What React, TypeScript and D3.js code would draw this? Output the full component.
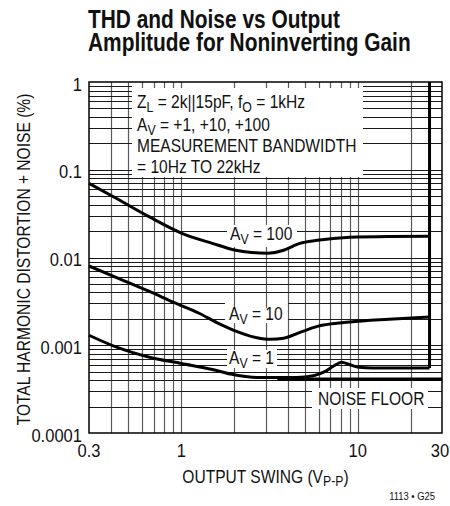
import React from "react";
import * as d3 from "d3";

// ---- data ----
const xTickValues = [0.3, 1, 10, 30];
const xTickLabels = ["0.3", "1", "10", "30"];
const yTickValues = [1, 0.1, 0.01, 0.001, 0.0001];
const yTickLabels = ["1", "0.1", "0.01", "0.001", "0.0001"];

const av100X = [0.3, 0.43, 0.66, 1.0, 1.5, 2.0, 2.5, 3.1, 3.8, 4.3, 4.7, 5.9, 9, 15, 25.5];
const av100Y = [0.07, 0.047, 0.029, 0.019, 0.0145, 0.0122, 0.0114, 0.0112, 0.0121, 0.0135, 0.0145, 0.0157, 0.017, 0.0174, 0.0175];

const av10X = [0.3, 0.43, 0.66, 0.9, 1.27, 1.6, 1.97, 2.68, 3.2, 3.8, 4.7, 5.9, 9, 15, 25.5];
const av10Y = [0.008, 0.0059, 0.0041, 0.0031, 0.0023, 0.0018, 0.00149, 0.00122, 0.00117, 0.0012, 0.0014, 0.00164, 0.00184, 0.00198, 0.0021];

const av1X = [0.3, 0.43, 0.66, 1.0, 1.5, 1.9, 2.7, 3.5, 4.5, 5.6, 6.5, 7.3, 8.1, 9, 10.2, 12, 25.5];
const av1Y = [0.0013, 0.00095, 0.00073, 0.00062, 0.00053, 0.00047, 0.00043, 0.00043, 0.00043, 0.00045, 0.0005, 0.00058, 0.00064, 0.0006, 0.00056, 0.00055, 0.00055];

const noiseX = [3.5, 30];
const noiseY = [0.00041, 0.00041];

const clipX = 25.5;

const title1 = "THD and Noise vs Output";
const title2 = "Amplitude for Noninverting Gain";

// ---- layout ----
const W = 450, H = 506;
const L = 89, R = 442, T = 82, B = 433;
const FONT = "'Liberation Sans', Arial, sans-serif";
const SX = 0.82;

type Gap = { x0: number; x1: number; y0: number; y1: number };

const hGaps: Gap[] = [
  { x0: 132, x1: 363, y0: 84, y1: 177 },
  { x0: 227, x1: 297, y0: 224, y1: 247 },
  { x0: 225, x1: 288, y0: 300, y1: 323 },
  { x0: 227, x1: 277, y0: 348, y1: 368 },
  { x0: 312, x1: 428, y0: 385, y1: 408 },
];
const vGaps: Gap[] = [
  { x0: 132, x1: 363, y0: 88, y1: 177 },
  { x0: 227, x1: 297, y0: 225, y1: 247 },
  { x0: 225, x1: 288, y0: 308, y1: 323 },
  { x0: 227, x1: 277, y0: 350, y1: 368 },
  { x0: 312, x1: 428, y0: 388, y1: 409 },
];

function split(a: number, b: number, cuts: [number, number][]): [number, number][] {
  let segs: [number, number][] = [[a, b]];
  for (const [c0, c1] of cuts) {
    const next: [number, number][] = [];
    for (const [s0, s1] of segs) {
      if (c1 <= s0 || c0 >= s1) { next.push([s0, s1]); continue; }
      if (c0 > s0) next.push([s0, c0]);
      if (c1 < s1) next.push([c1, s1]);
    }
    segs = next;
  }
  return segs;
}

function CT(props: { x: number; y: number; sx?: number; rot?: number; children?: React.ReactNode; [k: string]: any }) {
  const { x, y, sx = SX, rot = 0, children, ...rest } = props;
  return (
    <g transform={`translate(${x},${y}) rotate(${rot}) scale(${sx},1)`}>
      <text x={0} y={0} {...rest}>{children}</text>
    </g>
  );
}

export default function App() {
  const x = d3.scaleLog().domain([0.3, 30]).range([L, R]);
  const y = d3.scaleLog().domain([0.0001, 1]).range([B, T]);

  const line = d3
    .line<[number, number]>()
    .x((d) => x(d[0]))
    .y((d) => y(d[1]))
    .curve(d3.curveMonotoneX);

  const zip = (xs: number[], ys: number[]) => xs.map((v, i) => [v, ys[i]] as [number, number]);

  const vGrid: number[] = [];
  [0.1, 1, 10].forEach((dec) => {
    for (let k = 1; k <= 9; k++) {
      const v = dec * k;
      if (v > 0.3 + 1e-9 && v < 30 - 1e-9) vGrid.push(v);
    }
  });
  const hGrid: number[] = [];
  [0.0001, 0.001, 0.01, 0.1].forEach((dec) => {
    for (let k = 1; k <= 9; k++) {
      const v = dec * k;
      if (v > 0.0001 + 1e-12) hGrid.push(v);
    }
  });

  const hLines: React.ReactElement[] = [];
  hGrid.forEach((v, i) => {
    const yy = Math.round(y(v)) + 0.5;
    const cuts = hGaps.filter((g) => yy >= g.y0 && yy <= g.y1).map((g) => [g.x0, g.x1] as [number, number]);
    split(L, R, cuts).forEach(([a, b], j) => {
      hLines.push(<line key={`h${i}-${j}`} x1={a} x2={b} y1={yy} y2={yy} stroke="#1a1a1a" strokeWidth={1} />);
    });
  });
  const vLines: React.ReactElement[] = [];
  vGrid.forEach((v, i) => {
    const xx = Math.round(x(v)) + 0.5;
    const cuts = vGaps.filter((g) => xx >= g.x0 && xx <= g.x1).map((g) => [g.y0, g.y1] as [number, number]);
    split(T, B, cuts).forEach(([a, b], j) => {
      vLines.push(<line key={`v${i}-${j}`} x1={xx} x2={xx} y1={a} y2={b} stroke="#5a5a5a" strokeWidth={1.2} />);
    });
  });

  const curves = [zip(av100X, av100Y), zip(av10X, av10Y), zip(av1X, av1Y)];
  const lowestEnd = Math.min(av100Y[av100Y.length - 1], av10Y[av10Y.length - 1], av1Y[av1Y.length - 1]);

  const fs = 19;
  const sub = 15;

  return (
    <svg width={W} height={H} style={{ position: "absolute", left: 0, top: 0, background: "#fff" }} fontFamily={FONT}>
      <rect x={0} y={0} width={W} height={H} fill="#fff" />
      <CT x={88} y={28} fontSize={25.5} fontWeight="bold" fill="#111">{title1}</CT>
      <CT x={88} y={51} fontSize={25.5} fontWeight="bold" fill="#111">{title2}</CT>

      {vLines}
      {hLines}

      {curves.map((c, i) => (
        <path key={i} d={line(c) || ""} fill="none" stroke="#000" strokeWidth={3} strokeLinejoin="round" />
      ))}
      <line x1={x(clipX)} x2={x(clipX)} y1={y(1)} y2={y(lowestEnd)} stroke="#000" strokeWidth={3} />
      <path d={line(zip(noiseX, noiseY)) || ""} fill="none" stroke="#000" strokeWidth={3.5} />

      <rect x={L} y={T} width={R - L} height={B - T} fill="none" stroke="#000" strokeWidth={1.5} />

      <g fill="#111">
        <CT x={137} y={108} fontSize={fs}>
          Z<tspan fontSize={sub} dy={4}>L</tspan><tspan dy={-4}> = 2k||15pF, f</tspan><tspan fontSize={sub} dy={4}>O</tspan><tspan dy={-4}> = 1kHz</tspan>
        </CT>
        <CT x={137} y={131} fontSize={fs}>
          A<tspan fontSize={sub} dy={4}>V</tspan><tspan dy={-4}> = +1, +10, +100</tspan>
        </CT>
        <CT x={137} y={152} fontSize={fs}>MEASUREMENT BANDWIDTH</CT>
        <CT x={137} y={173} fontSize={fs}>= 10Hz TO 22kHz</CT>

        <CT x={230} y={240} fontSize={fs}>
          A<tspan fontSize={sub} dy={4}>V</tspan><tspan dy={-4}> = 100</tspan>
        </CT>
        <CT x={229} y={320} fontSize={fs}>
          A<tspan fontSize={sub} dy={4}>V</tspan><tspan dy={-4}> = 10</tspan>
        </CT>
        <CT x={229} y={364} fontSize={fs}>
          A<tspan fontSize={sub} dy={4}>V</tspan><tspan dy={-4}> = 1</tspan>
        </CT>
        <CT x={318} y={405} fontSize={fs}>NOISE FLOOR</CT>
      </g>

      <g fill="#111">
        {yTickValues.map((v, i) => (
          <CT key={i} x={82} y={y(v) + 8.5} sx={0.92} fontSize={18} textAnchor="end">{yTickLabels[i]}</CT>
        ))}
        {xTickValues.map((v, i) => (
          <CT key={i} x={x(v) - (i === 3 ? 2 : 0)} y={457} sx={0.92} fontSize={18} textAnchor="middle">{xTickLabels[i]}</CT>
        ))}
      </g>

      <CT x={(L + R) / 2} y={483} fontSize={fs} fill="#111" textAnchor="middle">
        OUTPUT SWING (V<tspan fontSize={sub} dy={3}>P-P</tspan><tspan dy={-3}>)</tspan>
      </CT>
      <CT x={30} y={(T + B) / 2 + 2} rot={-90} fontSize={fs} fill="#111" textAnchor="middle">
        TOTAL HARMONIC DISTORTION + NOISE (%)
      </CT>
      <CT x={435} y={500} fontSize={11.5} fill="#111" textAnchor="end">1113 • G25</CT>
    </svg>
  );
}
